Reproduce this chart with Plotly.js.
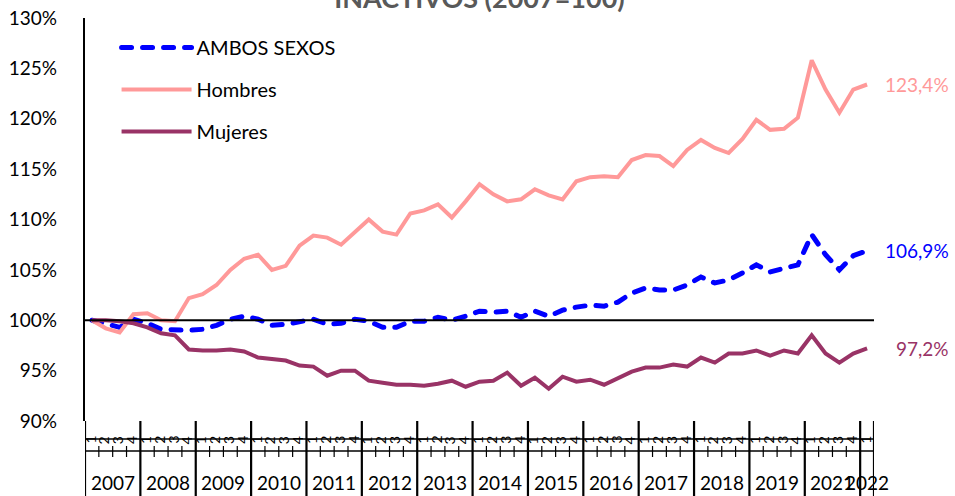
<!DOCTYPE html>
<html>
<head>
<meta charset="utf-8">
<script src="https://cdn.plot.ly/plotly-3.0.1.min.js"></script>
<style>
  html, body { margin: 0; padding: 0; background: #fff; }
  #chart { width: 955px; height: 496px; }
  .dashround path.js-line { stroke-linecap: round; }
</style>
</head>
<body>
<div id="chart"></div>
<script>
// ---- data ----
const years = ["2007","2008","2009","2010","2011","2012","2013","2014","2015","2016","2017","2018","2019","2021","2022"];
const quartersPerYear = [4,4,4,4,4,4,4,4,4,4,4,4,4,4,1];
const quarterLabels = ["1","2","3","4"];

const ambosSexos = [100,99.6,99.3,100.1,99.7,99.1,99.0,99.0,99.1,99.5,
  100.1,100.4,100.1,99.5,99.6,99.9,100.1,99.6,99.7,100.1,
  99.9,99.3,99.3,99.9,99.9,100.3,100.0,100.4,100.9,100.8,
  100.9,100.3,100.9,100.4,101.0,101.3,101.5,101.4,101.8,102.7,
  103.2,103.0,103.0,103.5,104.3,103.7,104.0,104.7,105.5,104.8,
  105.1,105.5,108.5,106.5,105.0,106.4,106.9];

const hombres = [100,99.2,98.8,100.6,100.7,100.0,99.9,102.2,102.6,103.5,
  105.0,106.1,106.5,105.0,105.4,107.4,108.4,108.2,107.5,108.8,
  110.0,108.8,108.5,110.6,110.9,111.5,110.2,111.8,113.5,112.5,
  111.8,112.0,113.0,112.4,112.0,113.8,114.2,114.3,114.2,115.9,
  116.4,116.3,115.3,116.9,117.9,117.1,116.6,118.0,119.9,118.9,
  119.0,120.1,125.8,122.9,120.6,122.9,123.4];

const mujeres = [100,100,99.9,99.7,99.3,98.7,98.5,97.1,97.0,97.0,
  97.1,96.9,96.3,96.1,96.0,95.5,95.4,94.5,95.0,95.0,
  94.0,93.8,93.6,93.6,93.5,93.7,94.0,93.4,93.9,94.0,
  94.8,93.5,94.3,93.2,94.4,93.9,94.1,93.6,94.3,94.9,
  95.3,95.3,95.6,95.4,96.3,95.8,96.7,96.7,97.0,96.5,
  97.0,96.7,98.5,96.7,95.8,96.7,97.2];

const baseline = 100;
const yTicks = [90,95,100,105,110,115,120,125,130];

// ---- build category positions ----
const xIdx = [];
const qText = [];
const yearStart = [];
let n = 0;
years.forEach((y, k) => {
  yearStart.push(n);
  for (let q = 0; q < quartersPerYear[k]; q++) { xIdx.push(n); qText.push(quarterLabels[q]); n++; }
});
const nCat = n;

const FONT = "Lato, 'Liberation Sans', Arial, sans-serif";
const cBlue = "#0000FF", cPink = "#FF9999", cPurple = "#993366";

const traces = [
  {x: xIdx, y: ambosSexos, name: "AMBOS SEXOS", type: "scatter", mode: "lines",
   legendgroup: "a", line: {color: cBlue, width: 5, dash: "10px,11px"}},
  {x: xIdx, y: hombres, name: "Hombres", type: "scatter", mode: "lines",
   legendgroup: "b", line: {color: cPink, width: 4}},
  {x: xIdx, y: mujeres, name: "Mujeres", type: "scatter", mode: "lines",
   legendgroup: "c", line: {color: cPurple, width: 4}}
];

// paper-y helpers (plot area: top 18px, bottom 421px)
const PT = 18, PB = 421, PH = PB - PT;
const py = (pix) => (PB - pix) / PH;

const shapes = [];
const annotations = [];

// 100% reference line
shapes.push({type: "line", xref: "x", yref: "y", x0: -0.5, x1: nCat - 0.5, y0: baseline, y1: baseline,
  line: {color: "#000", width: 2}});
// horizontal lines of the category axis
[439, 451].forEach(p => shapes.push({type: "line", xref: "x", yref: "paper", x0: -0.5, x1: nCat - 0.5,
  y0: py(p), y1: py(p), line: {color: "#000", width: 1.5}}));
// year separators
const bounds = yearStart.concat([nCat]);
bounds.forEach(b => shapes.push({type: "line", xref: "x", yref: "paper", x0: b - 0.5, x1: b - 0.5,
  y0: py(b === 0 ? PB : 421), y1: py(496), line: {color: "#000", width: 2.2}}));
// quarter ticks
for (let i = 0; i < nCat - 1; i++) {
  if (yearStart.indexOf(i + 1) !== -1) continue;
  shapes.push({type: "line", xref: "x", yref: "paper", x0: i + 0.5, x1: i + 0.5,
    y0: py(446), y1: py(457), line: {color: "#000", width: 1.2}});
}
// quarter labels
xIdx.forEach((x, i) => annotations.push({xref: "x", yref: "paper", x: x - 0.1, y: py(440),
  text: qText[i], showarrow: false, textangle: -90, font: {family: FONT, size: 14, color: "#000"},
  xanchor: "center", yanchor: "middle"}));
// year labels
years.forEach((y, k) => annotations.push({xref: "x", yref: "paper",
  x: yearStart[k] + (quartersPerYear[k] - 1) / 2, y: py(483), text: y, showarrow: false,
  font: {family: FONT, size: 19, color: "#000"}, xanchor: "center", yanchor: "middle"}));
// end value labels
const fmt = v => v.toFixed(1).replace(".", ",") + "%";
[[hombres, cPink], [ambosSexos, cBlue], [mujeres, cPurple]].forEach(([s, c]) => {
  annotations.push({xref: "x", yref: "y", x: nCat - 1, y: s[s.length - 1], text: fmt(s[s.length - 1]),
    showarrow: false, xanchor: "right", yanchor: "middle", xshift: 84,
    font: {family: FONT, size: 19, color: c}});
});

const layout = {
  width: 955, height: 496,
  margin: {l: 85, r: 81, t: PT, b: 496 - PB, pad: 0},
  paper_bgcolor: "#fff", plot_bgcolor: "#fff",
  font: {family: FONT, color: "#000"},
  title: {text: "<b>INACTIVOS (2007=100)</b>", font: {family: FONT, size: 27, color: "#595959"},
    x: 0.5, xanchor: "center", xref: "paper", yref: "container", y: 0.983, yanchor: "bottom"},
  showlegend: true,
  legend: {x: 0.04, y: 0.975, xanchor: "left", yanchor: "top", bgcolor: "rgba(0,0,0,0)",
    font: {family: FONT, size: 20, color: "#000"}, tracegroupgap: 13, itemwidth: 70,
    traceorder: "grouped"},
  xaxis: {range: [-0.5, nCat - 0.5], visible: false, fixedrange: true},
  yaxis: {range: [90, 130], tickvals: yTicks, ticktext: yTicks.map(v => v + "%"),
    showgrid: false, zeroline: false, showline: true, linecolor: "#000", linewidth: 2.2,
    ticks: "", ticklabelstandoff: 22, tickfont: {family: FONT, size: 19, color: "#000"}},
  shapes: shapes,
  annotations: annotations
};

Plotly.newPlot("chart", traces, layout, {staticPlot: true, displayModeBar: false}).then(() => {
  const d = document.querySelector("#chart .scatterlayer .trace");
  if (d) d.classList.add("dashround");
  const lg = document.querySelector("#chart .legend .traces");
  if (lg) lg.classList.add("dashround");
});
</script>
</body>
</html>
